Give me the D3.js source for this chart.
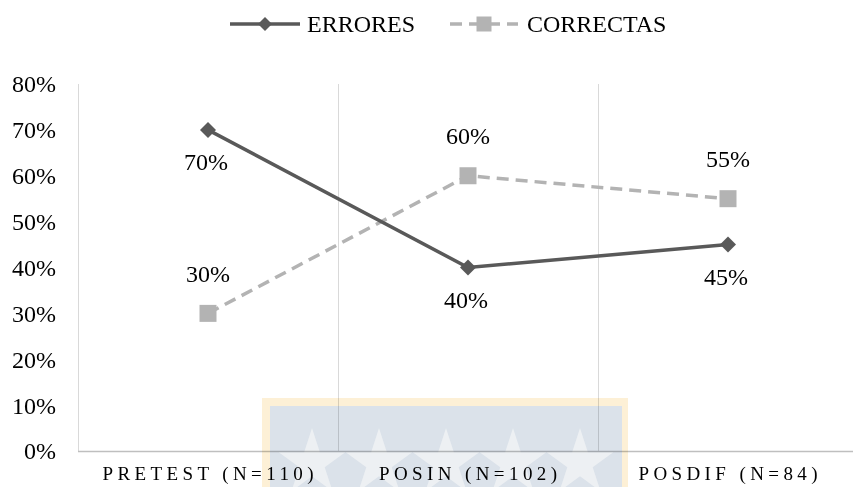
<!DOCTYPE html>
<html>
<head>
<meta charset="utf-8">
<script src="https://cdn.jsdelivr.net/npm/d3@7/dist/d3.min.js"></script>
<style>
  html, body { margin: 0; padding: 0; background: #fff; }
  svg { display: block; font-family: "Liberation Serif", "Times New Roman", serif; }
</style>
</head>
<body>
<svg id="chart" width="853" height="487"></svg>
<script>
// Categories and series values (shares, 0..1)
const categories = ["PRETEST (N=110)", "POSIN (N=102)", "POSDIF (N=84)"];
const errores = [0.70, 0.40, 0.45];
const correctas = [0.30, 0.60, 0.55];
const yTicks = [0, 0.1, 0.2, 0.3, 0.4, 0.5, 0.6, 0.7, 0.8];
const seriesNames = ["ERRORES", "CORRECTAS"];

const svg = d3.select("#chart");

const plot = { left: 78, right: 858, top: 84, bottom: 451 };

const x = d3.scaleBand().domain(categories).range([plot.left, plot.right]).padding(0);
const y = d3.scaleLinear().domain([0, 0.8]).range([plot.bottom, plot.top]);
const cx = c => x(c) + x.bandwidth() / 2;
const pct = d3.format(".0%");

const colErr = "#595959";
const colCor = "#b3b3b3";
const fontMain = 24;

// Institutional badge in the lower band of the plot
const badge = svg.append("g").attr("class", "badge");
badge.append("rect").attr("x", 262).attr("y", 398).attr("width", 366).attr("height", 100).attr("fill", "#fdf0d6");
badge.append("rect").attr("x", 270).attr("y", 406).attr("width", 352).attr("height", 100).attr("fill", "#dbe2ea");
const starPath = (cxs, cys, R) => {
  const r = R * 0.382;
  const pts = [];
  for (let i = 0; i < 10; i++) {
    const a = -Math.PI / 2 + i * Math.PI / 5;
    const rr = i % 2 === 0 ? R : r;
    pts.push([cxs + rr * Math.cos(a), cys + rr * Math.sin(a)]);
  }
  return "M" + pts.map(p => p.join(",")).join("L") + "Z";
};
[312, 379, 446, 513, 580].forEach(sx => {
  badge.append("path").attr("d", starPath(sx, 463, 35)).attr("fill", "#edf0f3");
});

// Category separators and axes
const grid = svg.append("g").style("mix-blend-mode", "multiply");
grid.selectAll("line.sep")
  .data(categories.slice(1))
  .join("line")
  .attr("x1", d => x(d) + 0.5).attr("x2", d => x(d) + 0.5)
  .attr("y1", plot.top).attr("y2", plot.bottom)
  .attr("stroke", "#d9d9d9").attr("stroke-width", 1);
grid.append("line")
  .attr("x1", plot.left + 0.5).attr("x2", plot.left + 0.5)
  .attr("y1", plot.top).attr("y2", plot.bottom)
  .attr("stroke", "#d9d9d9").attr("stroke-width", 1);
grid.append("line")
  .attr("x1", plot.left).attr("x2", plot.right)
  .attr("y1", plot.bottom + 0.5).attr("y2", plot.bottom + 0.5)
  .attr("stroke", "#bfbfbf").attr("stroke-width", 1.5);

// Y tick labels
svg.append("g").selectAll("text")
  .data(yTicks)
  .join("text")
  .attr("x", 56).attr("y", d => y(d))
  .attr("dy", "0.35em")
  .attr("text-anchor", "end")
  .attr("font-size", fontMain)
  .attr("fill", "#000")
  .text(d => pct(d));

// X category labels (letter-spaced; shifted by half a gap to stay centred)
const ls = 4.4;
svg.append("g").selectAll("text")
  .data(categories)
  .join("text")
  .attr("x", d => cx(d) + ls / 2).attr("y", 480)
  .attr("text-anchor", "middle")
  .attr("font-size", 19)
  .attr("letter-spacing", ls + "px")
  .attr("fill", "#000")
  .text(d => d);

// Lines
const line = d3.line().x(d => cx(d.c)).y(d => y(d.v));
const errData = categories.map((c, i) => ({ c, v: errores[i] }));
const corData = categories.map((c, i) => ({ c, v: correctas[i] }));

svg.append("path").datum(corData)
  .attr("d", line).attr("fill", "none")
  .attr("stroke", colCor).attr("stroke-width", 3.5)
  .attr("stroke-dasharray", "12,7");
svg.append("path").datum(errData)
  .attr("d", line).attr("fill", "none")
  .attr("stroke", colErr).attr("stroke-width", 3.5);

// Markers
const diamond = (px, py, s) => `M${px},${py - s}L${px + s},${py}L${px},${py + s}L${px - s},${py}Z`;
svg.append("g").selectAll("rect")
  .data(corData).join("rect")
  .attr("x", d => cx(d.c) - 8.5).attr("y", d => y(d.v) - 8.5)
  .attr("width", 17).attr("height", 17)
  .attr("fill", colCor);
svg.append("g").selectAll("path")
  .data(errData).join("path")
  .attr("d", d => diamond(cx(d.c), y(d.v), 8))
  .attr("fill", colErr);

// Value labels: ERRORES below, CORRECTAS above
svg.append("g").selectAll("text")
  .data(errData).join("text")
  .attr("x", d => cx(d.c) - 2).attr("y", d => y(d.v) + 32)
  .attr("dy", "0.35em").attr("text-anchor", "middle")
  .attr("font-size", fontMain).attr("fill", "#000")
  .text(d => pct(d.v));
svg.append("g").selectAll("text")
  .data(corData).join("text")
  .attr("x", d => cx(d.c)).attr("y", d => y(d.v) - 40)
  .attr("dy", "0.35em").attr("text-anchor", "middle")
  .attr("font-size", fontMain).attr("fill", "#000")
  .text(d => pct(d.v));

// Legend
const legend = svg.append("g");
const legItems = [
  { name: seriesNames[0], x0: 230, x1: 300, color: colErr, dash: null, marker: "diamond", tx: 307 },
  { name: seriesNames[1], x0: 450, x1: 518, color: colCor, dash: "12,7", marker: "square", tx: 527 }
];
legItems.forEach(it => {
  const ly = 24;
  legend.append("line")
    .attr("x1", it.x0).attr("x2", it.x1).attr("y1", ly).attr("y2", ly)
    .attr("stroke", it.color).attr("stroke-width", 3.5)
    .attr("stroke-dasharray", it.dash);
  const mx = (it.x0 + it.x1) / 2;
  if (it.marker === "diamond") {
    legend.append("path").attr("d", diamond(mx, ly, 7)).attr("fill", it.color);
  } else {
    legend.append("rect").attr("x", mx - 7.5).attr("y", ly - 7.5)
      .attr("width", 15).attr("height", 15).attr("fill", it.color);
  }
  legend.append("text")
    .attr("x", it.tx).attr("y", ly).attr("dy", "0.35em")
    .attr("font-size", fontMain).attr("fill", "#000")
    .text(it.name);
});
</script>
</body>
</html>
